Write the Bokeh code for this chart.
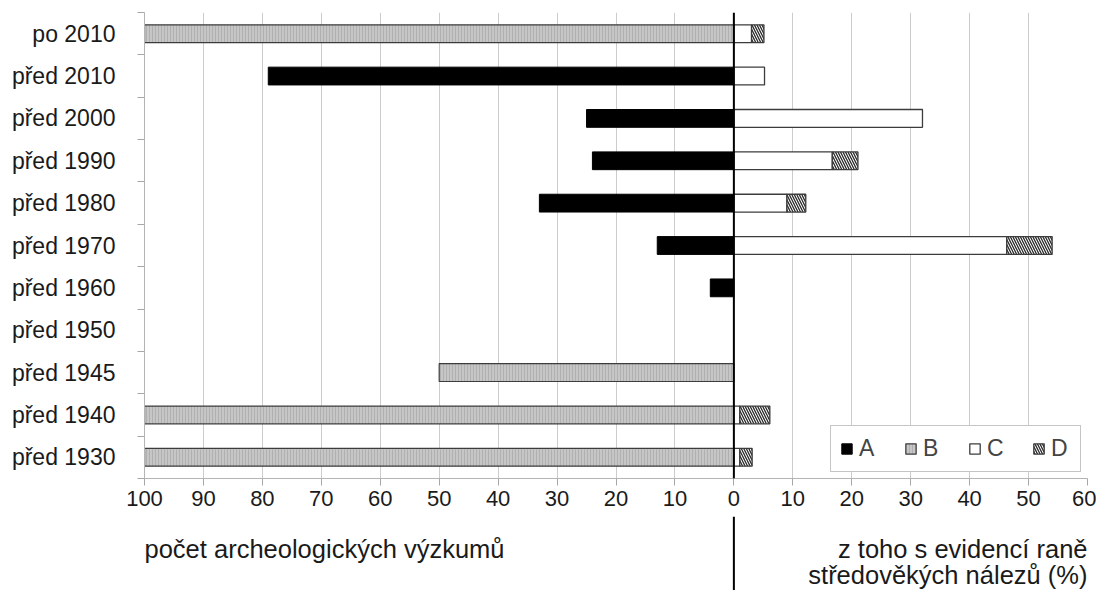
import json
from bokeh.plotting import figure
from bokeh.models import ColumnDataSource, FixedTicker, CustomJSTickFormatter, Span, Range1d
from bokeh.layouts import column
from bokeh.core.properties import value
from bokeh.embed import file_html
from bokeh.resources import INLINE

# ---- data ----
categories = ["po 2010", "před 2010", "před 2000", "před 1990", "před 1980", "před 1970",
              "před 1960", "před 1950", "před 1945", "před 1940", "před 1930"]
series_A = [0, 79, 25, 24, 33, 13, 4, 0, 0, 0, 0]          # count (left)
series_B = [100, 0, 0, 0, 0, 0, 0, 0, 50, 100, 100]        # count (left)
series_C = [3, 5.2, 32, 16.7, 9, 46.3, 0, 0, 0, 1, 1]       # % (right)
series_D = [2.1, 0, 0, 4.35, 3.2, 7.7, 0, 0, 0, 5.1, 2.1]   # % (right)
x_ticks = list(range(-100, 61, 10))
legend_names = ["A", "B", "C", "D"]
label_left = "počet archeologických výzkumů"
label_right = ["z toho s evidencí raně", "středověkých nálezů (%)"]

FONT = "Liberation Sans"
OUT = "#3c3c3c"

def make_src(lefts, rights):
    ys, ls, rs = [], [], []
    for i, (l, r) in enumerate(zip(lefts, rights)):
        if r - l != 0:
            ys.append(i); ls.append(l); rs.append(r)
    return ColumnDataSource(dict(y=ys, left=ls, right=rs))

n = len(categories)
srcA = make_src([-a for a in series_A], [0] * n)
srcB = make_src([-(a + b) for a, b in zip(series_A, series_B)], [-a for a in series_A])
srcC = make_src([0] * n, series_C)
srcD = make_src(series_C, [c + d for c, d in zip(series_C, series_D)])

p1 = figure(frame_width=943, frame_height=466,
            x_range=Range1d(-100, 60), y_range=Range1d(n - 0.5, -0.5),
            min_border_left=144, min_border_right=9, min_border_top=12, min_border_bottom=38,
            output_backend="svg", toolbar_location=None)
p1.outline_line_color = None
p1.background_fill_color = "white"
p1.border_fill_color = "white"

H = 0.42
p1.hbar(y="y", left="left", right="right", height=H, source=srcA,
        fill_color="black", line_color="black", line_width=1, legend_label=legend_names[0])
p1.hbar(y="y", left="left", right="right", height=H, source=srcB,
        fill_color="#c6c6c6", hatch_pattern="|", hatch_color="#b0b0b0", hatch_scale=3,
        hatch_weight=1, line_color=OUT, line_width=1.2, legend_label=legend_names[1])
p1.hbar(y="y", left="left", right="right", height=H, source=srcC,
        fill_color="white", line_color=OUT, line_width=1.3, legend_label=legend_names[2])
p1.hbar(y="y", left="left", right="right", height=H, source=srcD,
        fill_color="white", hatch_pattern="\\", hatch_color="#2a2a2a", hatch_scale=5,
        hatch_weight=1.3, line_color=OUT, line_width=1.3, legend_label=legend_names[3])

p1.add_layout(Span(location=0, dimension="height", line_color="black", line_width=2))

# x axis
xt = FixedTicker(ticks=x_ticks)
p1.xaxis.ticker = xt
p1.xaxis.formatter = CustomJSTickFormatter(code="return Math.abs(tick).toFixed(0);")
p1.xaxis.major_tick_out = 7
p1.xaxis.major_tick_in = 0
p1.xaxis.minor_tick_line_color = None
p1.xaxis.axis_line_color = "#b4b4b4"
p1.xaxis.major_tick_line_color = "#a8a8a8"
p1.xaxis.major_label_standoff = 5
p1.xaxis.major_label_text_font = FONT
p1.xaxis.major_label_text_font_size = "22px"
p1.xaxis.major_label_text_color = "#1a1a1a"

# y axis (categories)
yt = FixedTicker(ticks=list(range(n)), minor_ticks=[i - 0.5 for i in range(n + 1)])
p1.yaxis.ticker = yt
p1.yaxis.formatter = CustomJSTickFormatter(
    code="const labels = %s; return labels[Math.round(tick)];" % json.dumps(categories))
p1.yaxis.major_tick_out = 0
p1.yaxis.major_tick_in = 0
p1.yaxis.major_tick_line_color = None
p1.yaxis.minor_tick_out = 7
p1.yaxis.minor_tick_in = 0
p1.yaxis.minor_tick_line_color = "#a8a8a8"
p1.yaxis.axis_line_color = "#b4b4b4"
p1.yaxis.major_label_standoff = 22
p1.yaxis.major_label_text_font = FONT
p1.yaxis.major_label_text_font_size = "23px"
p1.yaxis.major_label_text_color = "#1a1a1a"

p1.xgrid.ticker = xt
p1.xgrid.grid_line_color = "#cccccc"
p1.ygrid.grid_line_color = None

lg = p1.legend[0]
lg.orientation = "horizontal"
lg.location = "bottom_right"
lg.margin = 6
lg.padding = 9
lg.spacing = 25
lg.glyph_width = 13
lg.glyph_height = 13
lg.label_standoff = 6
lg.label_text_font = FONT
lg.label_text_font_size = "23px"
lg.border_line_color = "#8c8c8c"
lg.border_line_width = 1
lg.background_fill_alpha = 1

# lower strip with axis captions
p2 = figure(frame_width=943, frame_height=74, x_range=p1.x_range, y_range=Range1d(0, 74),
            min_border_left=144, min_border_right=9, min_border_top=0, min_border_bottom=0,
            x_axis_location=None, y_axis_location=None,
            output_backend="svg", toolbar_location=None)
p2.outline_line_color = None
p2.grid.visible = False
p2.add_layout(Span(location=0, dimension="height", line_color="black", line_width=2))
p2.text(x=[x_ticks[0]], y=[42], text=[label_left], text_align="left", text_baseline="alphabetic",
        text_font=value(FONT), text_font_size="25.5px", text_color="#1a1a1a")
p2.text(x=[x_ticks[-1]] * 2, y=[42, 16], text=label_right, text_align="right",
        text_baseline="alphabetic", text_font=value(FONT), text_font_size="25.5px",
        text_color="#1a1a1a")

layout = column(p1, p2, spacing=0)
open("out.html", "w").write(file_html(layout, INLINE))
